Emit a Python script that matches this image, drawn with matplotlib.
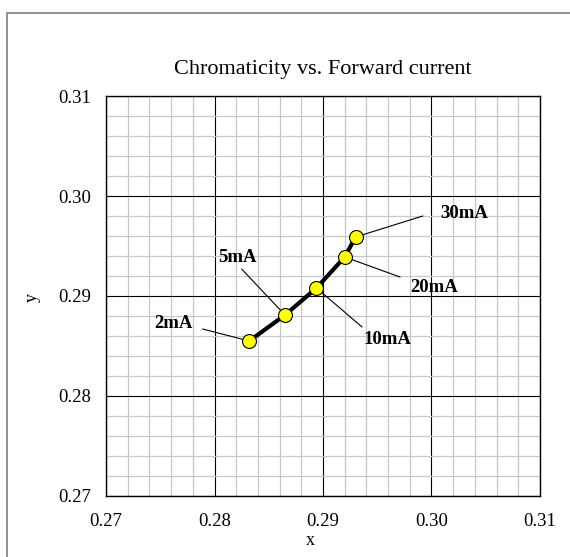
import matplotlib
matplotlib.use("Agg")
import matplotlib.pyplot as plt
from matplotlib.patches import Rectangle
from matplotlib.ticker import MultipleLocator, FormatStrFormatter

# data
labels = ["2mA", "5mA", "10mA", "20mA", "30mA"]
x_vals = [0.2832, 0.2865, 0.2894, 0.2920, 0.2930]
y_vals = [0.2855, 0.2881, 0.2908, 0.2939, 0.2959]
# label text centres and leader-line ends (data coords)
label_pos = [(0.2762, 0.2872), (0.2821, 0.2939), (0.2959, 0.2857), (0.3002, 0.2909), (0.3030, 0.2983)]
leader_end = [(0.2789, 0.2867), (0.2825, 0.2927), (0.2936, 0.2869), (0.2971, 0.2919), (0.2992, 0.2980)]

plt.rcParams['font.family'] = ['Liberation Serif', 'DejaVu Serif']

fig = plt.figure(figsize=(5.70, 5.57), dpi=100)
fig.patch.set_facecolor('white')
fig.patches.append(Rectangle((7/570, -0.2), 1.2, 1.2 - 13/557, transform=fig.transFigure,
                             fill=False, edgecolor='#7f7f7f', linewidth=1.2))

ax = fig.add_axes([106/570, (557-496)/557, (540-106)/570, (496-96)/557])
ax.set_xlim(0.27, 0.31)
ax.set_ylim(0.27, 0.31)
ax.xaxis.set_major_locator(MultipleLocator(0.01))
ax.yaxis.set_major_locator(MultipleLocator(0.01))
ax.xaxis.set_minor_locator(MultipleLocator(0.002))
ax.yaxis.set_minor_locator(MultipleLocator(0.002))
ax.xaxis.set_major_formatter(FormatStrFormatter('%.2f'))
ax.yaxis.set_major_formatter(FormatStrFormatter('%.2f'))
ax.grid(which='minor', color='#c8c8c8', linewidth=0.9, zorder=0)
ax.grid(which='major', color='black', linewidth=0.8, zorder=0.5)
ax.set_axisbelow(True)
ax.tick_params(which='both', length=0)
ax.tick_params(axis='x', labelsize=13.5, pad=12)
ax.tick_params(axis='y', labelsize=13.5, pad=11)
for s in ax.spines.values():
    s.set_color('black')
    s.set_linewidth(1.0)

ax.plot(x_vals, y_vals, color='black', linewidth=3, marker='o', markersize=10,
        markerfacecolor='#ffff00', markeredgecolor='black', markeredgewidth=0.8, zorder=5)

for lab, px, py, (lx, ly), (ex, ey) in zip(labels, x_vals, y_vals, label_pos, leader_end):
    ax.annotate('', xy=(px, py), xytext=(ex, ey),
                arrowprops=dict(arrowstyle='-', color='black', linewidth=0.8, shrinkA=0, shrinkB=5),
                zorder=4)
    ax.text(lx, ly, lab, ha='center', va='center', fontsize=13.5, fontweight='bold', zorder=6)

ax.set_title('Chromaticity vs. Forward current', fontsize=16, pad=16)
ax.set_xlabel('x', fontsize=13)
ax.xaxis.label.set_verticalalignment('baseline')
ax.xaxis.set_label_coords(0.47, -0.1225)
ax.set_ylabel('y', fontsize=13)
ax.yaxis.label.set_verticalalignment('center')
ax.yaxis.set_label_coords(-0.1705, 0.495)

fig.savefig('out.png', dpi=100)
